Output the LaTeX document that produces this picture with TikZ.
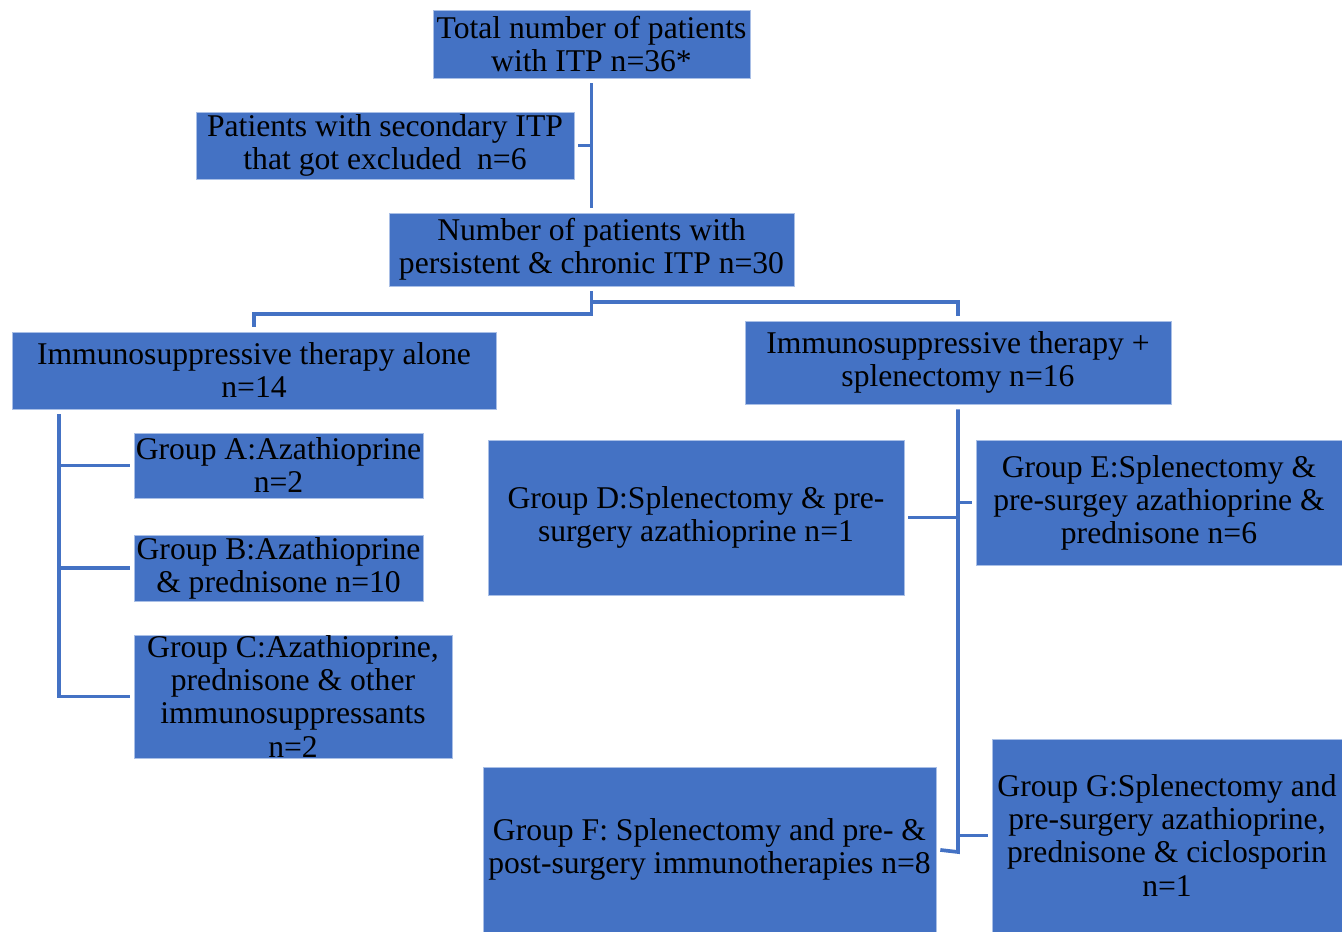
\documentclass[tikz,border=0pt]{standalone}
\usepackage{fontspec}
\setmainfont{Liberation Serif}
\definecolor{boxblue}{HTML}{4472C4}
\definecolor{boxedge}{HTML}{A9BFE6}

\begin{document}
\begin{tikzpicture}[
    x=0.2mm, y=-0.2mm,
    text centered,
    font=\rmfamily\fontsize{18}{18.8}\selectfont,
	group/.style={
	  rectangle,
	  align=center,
	  inner xsep=1pt,
	  inner ysep=0pt,
	  thin,
	  draw=boxedge,
	  fill=boxblue
	},
 	line/.style={draw, boxblue, line width=2.1pt}
	]
	\useasboundingbox (0, 0) rectangle (1342, 932);
    \node at (591.5, 44) [group, minimum width=63.4mm, minimum height=13.6mm] (total) {Total number of patients\\with ITP n=36*};
	\node at (385, 145.5) [group, minimum width=75.6mm, minimum height=13.4mm] (excl) {Patients with secondary ITP\\that got excluded\ \ n=6};
	\node at (591.5, 249.5) [group, minimum width=81mm, minimum height=14.6mm] (mid) {Number of patients with\\persistent \& chronic ITP n=30};
	\node at (254, 370.5) [group, minimum width=96.8mm, minimum height=15.4mm] (alone) {Immunosuppressive therapy alone\\n=14};
	\node at (958, 362.5) [group, minimum width=85.2mm, minimum height=16.6mm] (splen) {Immunosuppressive therapy +\\splenectomy n=16};
	\node at (278.5, 465.5) [group, minimum width=57.8mm, minimum height=13mm] (grpA) {Group A:Azathioprine\\n=2};
	\node at (278.5, 568) [group, minimum width=57.8mm, minimum height=13.2mm] (grpB) {Group B:Azathioprine\\\& prednisone n=10};
	\node at (293, 696.5) [group, minimum width=63.6mm, minimum height=24.6mm] (grpC) {Group C:Azathioprine,\\prednisone \& other\\immunosuppressants\\n=2};
	\node at (696, 517.5) [group, minimum width=83.2mm, minimum height=31mm] (grpD) {Group D:Splenectomy \& pre-\\surgery azathioprine n=1};
	\node at (1159, 502.5) [group, minimum width=73.2mm, minimum height=25mm] (grpE) {Group E:Splenectomy \&\\pre-surgey azathioprine \&\\prednisone n=6};
	\node at (709.5, 849.5) [group, minimum width=90.6mm, minimum height=33mm] (grpF) {Group F: Splenectomy and pre- \&\\post-surgery immunotherapies n=8};
	\node at (1167, 835.5) [group, minimum width=70mm, minimum height=38.6mm] (grpG) {Group G:Splenectomy and\\pre-surgery azathioprine,\\prednisone \& ciclosporin\\n=1};
	\coordinate (lsplit) at (591.5, 314);
	\coordinate (rsplit) at (591.5, 302);
	\coordinate (ltop) at (59, 414);
	\coordinate (rbottom) at (958, 852);
	\path[line, shorten <=1mm, shorten >=1mm] (total) -- (mid);
	\path[line, shorten <=0.8mm] (excl.east) -- (excl.east -| total.south);
	\path[line, shorten <=1mm, shorten >=1mm] (mid.south) -- (lsplit) -| (alone.north);
	\path[line, shorten >=1mm] (rsplit) -| (splen.north);
	\path[line, shorten >=0.8mm] (ltop) |- (grpC.west);
	\path[line, shorten >=0.8mm] (ltop |- grpA) -- (grpA.west);
	\path[line, shorten >=0.8mm] (ltop |- grpB) -- (grpB.west);
	\path[line, shorten <=1mm, shorten >=0.8mm] (splen.south) -- (rbottom) -- (grpF.east);
	\path[line, shorten <=0.8mm] (grpD.east) -- (grpD.east -| splen.south);
	\path[line, shorten >=0.8mm] (grpE.west -| splen.south) -- (grpE.west);
	\path[line, shorten >=0.8mm] (grpG.west -| splen.south) -- (grpG.west);
  \end{tikzpicture}
\end{document}
